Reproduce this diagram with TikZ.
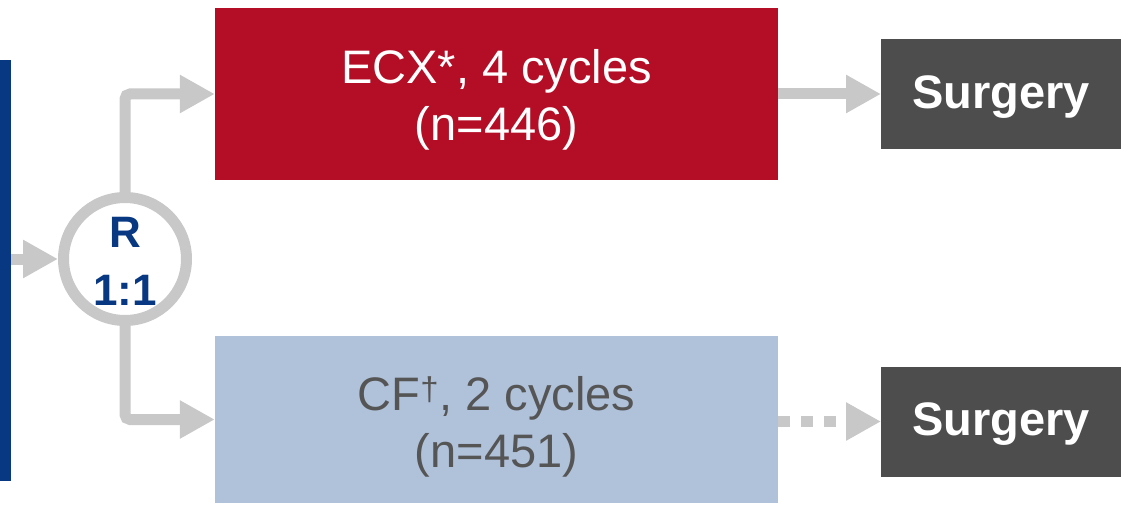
\documentclass[tikz,border=0pt]{standalone}
\usepackage{fontspec}
\setmainfont{Liberation Sans}
\usetikzlibrary{arrows.meta}
\definecolor{navyc}{RGB}{8,56,130}
\definecolor{redc}{RGB}{180,14,39}
\definecolor{lightb}{RGB}{176,193,218}
\definecolor{greyc}{RGB}{200,200,200}
\definecolor{darkg}{RGB}{77,77,77}
\definecolor{textg}{RGB}{85,85,85}
\newcommand{\twolines}[3]{\raisebox{#1}[\height][\depth]{\begin{tabular}{@{}c@{}}#2\\#3\end{tabular}}}
\tikzset{
  x=1pt,y=-1pt,
  armbox/.style={minimum width=563pt, inner sep=0pt,
    font=\fontsize{47}{57.5}\selectfont},
  surgbox/.style={fill=darkg, text=white, minimum width=240pt, minimum height=110pt, inner sep=0pt,
    font=\fontsize{47}{56}\selectfont\bfseries},
  conn/.style={draw=greyc, line width=11pt, -{Triangle[width=36pt,length=35pt]}},
}
\begin{document}
\begin{tikzpicture}
\useasboundingbox (0,0) rectangle (1121,505);
\node[fill=navyc, minimum width=11pt, minimum height=421pt, inner sep=0pt, anchor=north west] (bar) at (0,60) {};
\node[circle, draw=greyc, fill=white, line width=11pt, minimum size=123pt, inner sep=0pt,
  text=navyc, font=\fontsize{44}{58}\selectfont\bfseries] (r) at (125,259)
  {\raisebox{12pt}[29pt][29pt]{\begin{tabular}[t]{@{}c@{}}R\\1:1\end{tabular}}};
\node[armbox, fill=redc, text=white, minimum height=172pt] (ecx) at (496.5,94) {\twolines{-6.5pt}{ECX*, 4 cycles}{(n=446)}};
\node[armbox, fill=lightb, text=textg, minimum height=167pt] (cf) at (496.5,419.5) {\twolines{-7.75pt}{CF\textsuperscript{†}, 2 cycles}{(n=451)}};
\node[surgbox, anchor=west] (s1) at (881,94) {\raisebox{-3pt}[\height][\depth]{Surgery}};
\node[surgbox, anchor=west] (s2) at (881,421.5) {\raisebox{-3pt}[\height][\depth]{Surgery}};
\draw[conn] (bar.east |- r.west) -- (r.west);
\draw[conn, rounded corners=5pt] (r.north) |- (ecx.west);
\draw[conn, rounded corners=5pt] (r.south) |- (cf.west);
\draw[conn] (ecx.east) -- (ecx.east -| s1.west);
\draw[conn, dash pattern=on 12pt off 11pt] (cf.east |- s2.west) -- (s2.west);
\end{tikzpicture}
\end{document}
